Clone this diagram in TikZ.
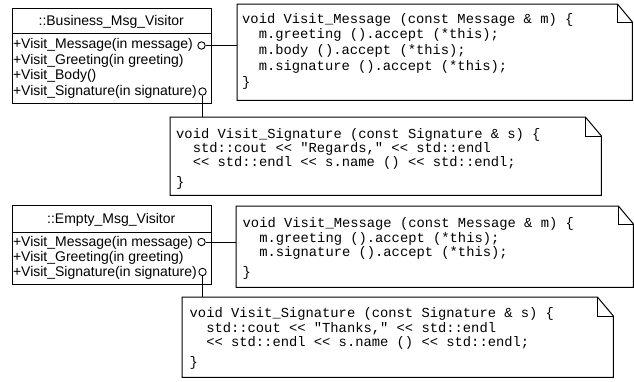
\documentclass[tikz,border=0pt]{standalone}
\usepackage{fontspec}
\setmainfont{Liberation Sans}
\setmonofont{Liberation Mono}
\newcommand\mynote[3]{%
  \draw[notepath] (#1.north west) -- ([xshift=-#2pt]#1.north east) -- ([yshift=-#3pt]#1.north east) -- (#1.south east) -- (#1.south west) -- cycle;
  \draw[notepath] ([xshift=-#2pt]#1.north east) |- ([yshift=-#3pt]#1.north east);}
\newcommand\ind{\phantom{xx}}
\begin{document}
\begin{tikzpicture}[x=1pt,y=-1pt,
  clsbox/.style={draw, line width=1pt, inner sep=0, anchor=north west},
  notebox/.style={inner sep=0, anchor=north west},
  notepath/.style={line width=1pt, line join=miter},
  sans/.style={font=\fontsize{14}{15}\selectfont, inner sep=0, anchor=base west},
  ttl/.style={font=\fontsize{14}{15}\selectfont, inner sep=0, anchor=base},
  code/.style={font=\fontsize{13.8}{15}\selectfont\ttfamily, inner sep=0, anchor=base west},
  port/.style={circle, draw, line width=0.9pt, minimum size=7.4pt, inner sep=0, fill=white},
  link/.style={line width=1pt}]
\useasboundingbox (0,0) rectangle (634,381);

% ---------- Business_Msg_Visitor ----------
\node[clsbox, minimum width=198.5pt, minimum height=94.5pt] (B1) at (12,8) {};
\draw[line width=1pt] ([yshift=-25pt]B1.north west) -- ([yshift=-25pt]B1.north east);
\node[ttl] (B1t) at (111.25,25.7) {::Business\_Msg\_Visitor};
\node[sans] (B1a) at (12.8,48.5) {+Visit\_Message(in message)};
\node[sans] (B1b) at (12.8,64) {+Visit\_Greeting(in greeting)};
\node[sans] (B1c) at (12.8,79.5) {+Visit\_Body()};
\node[sans] (B1d) at (12.8,95) {+Visit\_Signature(in signature)};
\node[port] (P1) at (201.5,45.5) {};
\node[port] (P2) at (202.5,91.5) {};

% note 1
\node[notebox, minimum width=395pt, minimum height=96pt] (N1) at (237,4) {};
\mynote{N1}{15}{18}
\node[code] (N1a) at (242,23) {void Visit\_Message (const Message \& m) \{};
\node[code] (N1b) at (242,38.5) {\ind m.greeting ().accept (*this);};
\node[code] (N1c) at (242,54) {\ind m.body ().accept (*this);};
\node[code] (N1d) at (242,70) {\ind m.signature ().accept (*this);};
\node[code] (N1e) at (242,86.5) {\}};

% note 2
\node[notebox, minimum width=431pt, minimum height=78pt] (N2) at (170,117) {};
\mynote{N2}{16}{19}
\node[code] (N2a) at (176,138) {void Visit\_Signature (const Signature \& s) \{};
\node[code] (N2b) at (176,152.3) {\ind std::cout << "Regards," << std::endl};
\node[code] (N2c) at (176,166.6) {\ind << std::endl << s.name () << std::endl;};
\node[code] (N2d) at (176,186) {\}};

\draw[link] (P1.east) -- (P1.east -| N1.west);
\draw[link] (P2.south) -- (P2.south |- N2.north);

% ---------- Empty_Msg_Visitor ----------
\node[clsbox, minimum width=198.5pt, minimum height=79pt] (B2) at (12,205) {};
\draw[line width=1pt] ([yshift=-27pt]B2.north west) -- ([yshift=-27pt]B2.north east);
\node[ttl] (B2t) at (111.25,223.3) {::Empty\_Msg\_Visitor};
\node[sans] (B2a) at (12.8,246.5) {+Visit\_Message(in message)};
\node[sans] (B2b) at (12.8,261.5) {+Visit\_Greeting(in greeting)};
\node[sans] (B2c) at (12.8,276.5) {+Visit\_Signature(in signature)};
\node[port] (P3) at (201.5,242) {};
\node[port] (P4) at (202.5,272) {};

% note 3
\node[notebox, minimum width=397pt, minimum height=81pt] (N3) at (236,206) {};
\mynote{N3}{15}{18}
\node[code] (N3a) at (242.5,227.5) {void Visit\_Message (const Message \& m) \{};
\node[code] (N3b) at (242.5,242) {\ind m.greeting ().accept (*this);};
\node[code] (N3c) at (242.5,256) {\ind m.signature ().accept (*this);};
\node[code] (N3d) at (242.5,276) {\}};

% note 4
\node[notebox, minimum width=431pt, minimum height=80pt] (N4) at (182,297) {};
\mynote{N4}{16}{19}
\node[code] (N4a) at (189.5,317.7) {void Visit\_Signature (const Signature \& s) \{};
\node[code] (N4b) at (189.5,332) {\ind std::cout << "Thanks," << std::endl};
\node[code] (N4c) at (189.5,346) {\ind << std::endl << s.name () << std::endl;};
\node[code] (N4d) at (189.5,366.5) {\}};

\draw[link] (P3.east) -- (P3.east -| N3.west);
\draw[link] (P4.south) -- (P4.south |- N4.north);
\end{tikzpicture}
\end{document}
